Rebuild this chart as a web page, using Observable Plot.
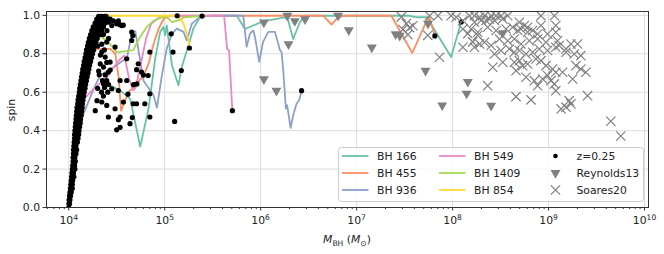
<!DOCTYPE html>
<html><head><meta charset="utf-8">
<script src="https://cdn.jsdelivr.net/npm/d3@7"></script>
<script src="https://cdn.jsdelivr.net/npm/@observablehq/plot@0.6"></script>
<style>
body{margin:0;background:#fff;}
#c{position:relative;width:664px;height:254px;}
#c svg text{font-family:"DejaVu Sans",sans-serif !important;font-size:10.8px !important;}
</style></head><body><div id="c"></div>
<script>
// ---- data (mass in solar masses, spin) ----
const bh166 = [[2.14e4,0.669],[2.71e4,0.634],[3.44e4,0.608],[4.37e4,0.565],[5.56e4,0.317],[6.79e4,0.515],[7.96e4,0.775],[8.97e4,0.914],[9.73e4,0.94],[1.01e5,0.896],[1.05e5,0.948],[1.19e5,0.74],[1.39e5,0.636],[1.51e5,0.732],[1.77e5,0.844],[1.99e5,0.931],[2.34e5,0.992],[3.0e5,0.998],[5.64e5,0.998],[6.87e5,0.929],[1.06e6,0.969],[1.79e6,0.99],[1.94e6,0.972],[2.18e6,0.877],[2.56e6,0.964],[2.89e6,0.998],[3.5e7,0.998],[4.2e7,0.99],[5.52e7,0.99],[6.22e7,0.939],[9.66e7,0.783],[1.23e8,0.966]];
const bh455 = [[1.97e4,0.825],[2.71e4,0.825],[3.06e4,0.8],[3.31e4,0.678],[3.51e4,0.504],[4.21e4,0.6],[4.74e4,0.626],[6.03e4,0.686],[6.79e4,0.747],[7.66e4,0.851],[8.63e4,0.929],[9.73e4,0.981],[1.14e5,0.998],[4.49e6,0.998],[5.48e6,0.952],[6.17e6,0.981],[7.23e6,0.998],[2.30e7,0.998],[3.80e7,0.804],[5.52e7,0.986],[5.75e7,0.988],[6.53e7,0.893]];
const bh936 = [[1.40e4,0.478],[1.82e4,0.617],[2.14e4,0.69],[2.94e4,0.73],[4.05e4,0.78],[4.56e4,0.912],[4.94e4,0.917],[6.02e4,0.66],[7.65e4,0.584],[8.30e4,0.52],[9.35e4,0.688],[1.05e5,0.827],[1.19e5,0.905],[1.34e5,0.931],[1.57e5,0.914],[1.70e5,0.87],[1.92e5,0.957],[2.34e5,0.992],[3.0e5,0.998],[6.59e5,0.998],[7.14e5,0.836],[7.74e5,0.905],[8.38e5,0.922],[8.72e5,0.888],[9.67e5,0.758],[1.06e6,0.862],[1.20e6,0.914],[1.41e6,0.914],[1.59e6,0.818],[1.65e6,0.81],[1.72e6,0.714],[1.83e6,0.515],[1.89e6,0.532],[2.05e6,0.414],[2.18e6,0.48],[2.37e6,0.541],[2.52e6,0.558],[2.67e6,0.608]];
const bh549 = [[1.38e4,0.556],[1.82e4,0.617],[2.51e4,0.678],[2.94e4,0.73],[3.4e4,0.77],[3.8e4,0.79],[4.3e4,0.66],[4.7e4,0.61],[5.0e4,0.625],[5.6e4,0.74],[6.4e4,0.88],[7.2e4,0.955],[8.5e4,0.985],[1.0e5,0.997],[4.16e5,0.998],[4.47e5,0.827],[4.69e5,0.816],[5.07e5,0.504]];
const bh1409 = [[2.14e4,0.894],[2.92e4,0.833],[3.16e4,0.807],[4.7e4,0.819],[5.5e4,0.885],[6.45e4,0.937],[7.6e4,0.971],[9.6e4,0.992],[1.05e5,0.99],[1.2e5,0.965],[1.4e5,0.975],[1.6e5,0.99],[2.6e5,0.997]];
const bh854 = [[2.4e4,0.998],[1.39e5,0.998],[1.57e5,0.956],[1.67e5,0.914],[1.77e5,0.87],[1.81e5,0.83]];

const z025 = [
[1.0e4,0.0],[1.005e4,0.02],[1.02e4,0.02],[1.01e4,0.04],[1.03e4,0.04],[1.02e4,0.06],[1.045e4,0.06],[1.03e4,0.08],[1.06e4,0.08],
[1.04e4,0.10],[1.07e4,0.10],[1.09e4,0.10],[1.05e4,0.12],[1.09e4,0.12],[1.06e4,0.14],[1.10e4,0.14],[1.07e4,0.16],[1.11e4,0.16],[1.13e4,0.16],
[1.08e4,0.18],[1.12e4,0.18],[1.09e4,0.20],[1.14e4,0.20],[1.16e4,0.20],[1.10e4,0.22],[1.15e4,0.22],[1.11e4,0.24],[1.14e4,0.24],[1.17e4,0.24],
[1.11e4,0.26],[1.16e4,0.26],[1.12e4,0.28],[1.15e4,0.28],[1.19e4,0.28],[1.12e4,0.30],[1.17e4,0.30],[1.21e4,0.30],[1.13e4,0.32],[1.19e4,0.32],
[1.14e4,0.34],[1.18e4,0.34],[1.23e4,0.34],[1.15e4,0.36],[1.20e4,0.36],[1.25e4,0.36],[1.15e4,0.38],[1.21e4,0.38],[1.27e4,0.38],
[1.16e4,0.40],[1.22e4,0.40],[1.28e4,0.40],[1.17e4,0.42],[1.24e4,0.42],[1.30e4,0.42],[1.18e4,0.44],[1.25e4,0.44],[1.32e4,0.44],
[1.19e4,0.46],[1.26e4,0.46],[1.33e4,0.46],[1.20e4,0.48],[1.28e4,0.48],[1.35e4,0.48],[1.21e4,0.50],[1.29e4,0.50],[1.36e4,0.50],
[1.22e4,0.52],[1.30e4,0.52],[1.38e4,0.52],[1.24e4,0.54],[1.32e4,0.54],[1.39e4,0.54],[1.25e4,0.56],[1.33e4,0.56],[1.41e4,0.56],
[1.27e4,0.58],[1.35e4,0.58],[1.43e4,0.58],[1.29e4,0.60],[1.37e4,0.60],[1.45e4,0.60],[1.30e4,0.62],[1.39e4,0.62],[1.48e4,0.62],
[1.32e4,0.64],[1.41e4,0.64],[1.50e4,0.64],[1.34e4,0.66],[1.43e4,0.66],[1.53e4,0.66],[1.36e4,0.68],[1.46e4,0.68],[1.56e4,0.68],
[1.38e4,0.70],[1.48e4,0.70],[1.59e4,0.70],[1.40e4,0.72],[1.51e4,0.72],[1.62e4,0.72],[1.43e4,0.74],[1.54e4,0.74],[1.65e4,0.74],
[1.45e4,0.76],[1.57e4,0.76],[1.69e4,0.76],[1.48e4,0.78],[1.60e4,0.78],[1.73e4,0.78],[1.51e4,0.80],[1.64e4,0.80],[1.77e4,0.80],
[1.53e4,0.82],[1.67e4,0.82],[1.82e4,0.82],[1.57e4,0.84],[1.71e4,0.84],[1.87e4,0.84],[1.60e4,0.86],[1.76e4,0.86],[1.92e4,0.86],
[1.64e4,0.88],[1.81e4,0.88],[1.98e4,0.88],[1.69e4,0.90],[1.86e4,0.90],[2.04e4,0.90],[2.14e4,0.90],[1.74e4,0.92],[1.92e4,0.92],[2.10e4,0.92],[2.2e4,0.92],
[1.80e4,0.94],[1.98e4,0.94],[2.16e4,0.94],[2.3e4,0.94],[1.88e4,0.96],[2.05e4,0.96],[2.25e4,0.96],[2.4e4,0.96],
[1.96e4,0.98],[2.12e4,0.98],[2.3e4,0.98],[2.5e4,0.98],[2.05e4,0.995],[2.2e4,0.995],[2.35e4,0.995],[2.45e4,0.995],
[2.30e4,0.982],[2.59e4,0.965],[2.81e4,0.947],[3.16e4,0.956],[3.56e4,0.947],[2.7e4,0.98],[2.92e4,0.971],[3.29e4,0.971],[3.7e4,0.949],[3.43e4,0.951],
[4.53e4,0.913],[4.53e4,0.869],[4.67e4,0.895],[2.49e4,0.861],[3.04e4,0.835],[2.21e4,0.809],[2.40e4,0.783],[2.70e4,0.757],[2.30e4,0.731],[2.59e4,0.705],
[2.49e4,0.661],[2.30e4,0.644],[2.81e4,0.618],[3.43e4,0.661],[4.02e4,0.661],[3.29e4,0.609],[4.02e4,0.774],[5.30e4,0.748],[5.74e4,0.705],[7.0e4,0.809],
[6.72e4,0.687],[7.0e4,0.592],[6.21e4,0.540],[5.09e4,0.540],[4.70e4,0.540],[3.71e4,0.549],[2.49e4,0.531],[2.21e4,0.549],[3.04e4,0.514],[3.43e4,0.471],
[2.59e4,0.471],[4.35e4,0.436],[3.16e4,0.404],[3.43e4,0.417],[3.29e4,0.457],[7.0e4,0.471],[1.27e5,0.448],[1.17e5,0.904],[1.22e5,0.809],[1.49e5,0.713],
[1.81e5,0.83],[1.35e5,0.998],[2.45e5,0.996],[5.07e5,0.504],[2.67e6,0.608],[6.53e7,0.893],[1.23e8,0.966],
[2.13e4,0.747],[2.25e4,0.66],[4.6e4,0.468],[1.97e4,0.556],[1.89e4,0.504],[2.7e4,0.715],[2.49e4,0.755],[2.36e4,0.625],[2.08e4,0.691],[2.14e4,0.793],
[2.21e4,0.85],[6.0e4,0.689],[5.1e4,0.717],[5.13e4,0.643],[4.74e4,0.639],[4.14e4,0.59],[2.0e4,0.84],[2.05e4,0.71],[2.0e4,0.62],[2.2e4,0.60],
[2.3e4,0.58],[2.55e4,0.60],[2.6e4,0.64],[2.4e4,0.69],[2.35e4,0.82],[2.6e4,0.88],[2.5e4,0.92],[2.3e4,0.9]];

const reynolds13 = [[1.08e6,0.963],[1.9e6,0.998],[2.27e6,0.97],[2.9e6,0.98],[1.95e6,0.85],[1.08e6,0.668],[1.46e6,0.608],[6.41e6,0.998],[8.28e6,0.923],[1.44e7,0.833],[2.55e7,0.902],[2.81e7,0.894],[5.22e7,0.712],[5.55e7,0.957],[7.80e7,0.532],[1.44e8,0.654],[1.40e8,0.593],[2.52e8,0.53],[3.33e8,0.908]];

const soares20 = [[7.03e7,0.998],[9.66e7,0.998],[1.09e8,0.99],[1.50e8,0.998],[1.69e8,0.998],[1.91e8,0.99],[2.15e8,0.998],[2.52e8,0.998],[2.84e8,0.998],[3.20e8,0.998],[3.75e8,0.998],[8.33e8,0.998],[1.15e9,0.998],
[1.28e8,0.973],[1.69e8,0.964],[1.98e8,0.973],[2.23e8,0.973],[2.42e8,0.981],[2.73e8,0.973],[3.33e8,0.981],[4.96e8,0.964],[5.59e8,0.947],[6.05e8,0.938],[8.33e8,0.947],[1.19e9,0.947],
[1.28e8,0.929],[1.56e8,0.929],[1.83e8,0.912],[2.32e8,0.938],[2.84e8,0.921],[3.61e8,0.929],[4.23e8,0.938],[4.77e8,0.921],[5.16e8,0.929],[6.05e8,0.912],[6.82e8,0.921],[7.69e8,0.903],[9.77e8,0.903],[1.19e9,0.912],
[1.28e8,0.834],[1.69e8,0.834],[1.91e8,0.851],[2.15e8,0.86],[2.52e8,0.843],[3.08e8,0.877],[3.75e8,0.868],[4.40e8,0.877],[5.16e8,0.851],[6.30e8,0.868],[7.69e8,0.877],[9.39e8,0.86],[1.24e9,0.868],[1.29e9,0.843],[1.52e9,0.825],[1.71e9,0.851],[2.00e9,0.851],
[7.31e7,0.782],[2.73e8,0.799],[3.20e8,0.817],[3.91e8,0.825],[4.40e8,0.808],[4.96e8,0.817],[5.82e8,0.799],[6.82e8,0.808],[8.00e8,0.825],[9.77e8,0.817],[1.19e9,0.834],[1.52e9,0.808],[1.85e9,0.799],[2.17e9,0.79],
[2.62e8,0.73],[3.33e8,0.756],[4.40e8,0.756],[4.96e8,0.764],[5.37e8,0.738],[6.05e8,0.747],[7.39e8,0.773],[8.33e8,0.764],[9.39e8,0.738],[1.10e9,0.721],[1.19e9,0.704],[1.40e9,0.704],[1.93e9,0.738],[2.17e9,0.721],[2.45e9,0.704],
[4.58e8,0.712],[5.82e8,0.678],[7.10e8,0.66],[7.69e8,0.634],[8.67e8,0.669],[9.77e8,0.687],[1.06e9,0.66],[1.15e9,0.643],[1.78e9,0.669],[2.32e8,0.634],
[4.58e8,0.577],[6.56e8,0.56],[1.19e9,0.608],[1.64e9,0.556],[2.55e9,0.582],[1.35e9,0.513],[1.52e9,0.522],[1.71e9,0.539],[4.45e9,0.449],[5.66e9,0.372],
[2.93e7,0.992],[3.30e7,0.957],[3.57e7,0.936],[3.04e7,0.926],[3.42e7,0.9],[3.85e7,0.946],[5.52e7,0.896],[5.75e7,0.998],[1.62e8,0.862],[1.83e8,0.896],[1.44e8,0.905]];

const xMajor = [1e4,1e5,1e6,1e7,1e8,1e9,1e10];
const xMinor = d3.range(3,10).flatMap(e => d3.range(2,10).map(m => m*10**e)).filter(v => v > 5866 && v < 1.1e10);
const yTicks = [0,0.2,0.4,0.6,0.8,1.0];

const tracks = [
  {name:"BH 166", data:bh166, color:"#66c2a5"},
  {name:"BH 455", data:bh455, color:"#fc8d62"},
  {name:"BH 936", data:bh936, color:"#8da0cb"},
  {name:"BH 549", data:bh549, color:"#e78ac3"},
  {name:"BH 1409", data:bh1409, color:"#a6d854"},
  {name:"BH 854", data:bh854, color:"#ffd92f"}
];
const grey = "#808080";

const chart = Plot.plot({
  width: 664, height: 254,
  marginLeft: 46, marginRight: 16, marginTop: 11, marginBottom: 47,
  style: {fontFamily: "DejaVu Sans, sans-serif", fontSize: "10.8px", color: "#222", background: "white", overflow: "visible"},
  x: {type: "log", domain: [5866, 1.10e10]},
  y: {domain: [0, 1.02]},
  marks: [
    Plot.gridX({ticks: xMajor, stroke: "#dcdcdc", strokeOpacity: 1, strokeWidth: 1}),
    Plot.gridY({ticks: yTicks, stroke: "#dcdcdc", strokeOpacity: 1, strokeWidth: 1}),
    Plot.axisX({ticks: xMinor, tickSize: 2, tickFormat: () => "", label: null, stroke: "#333"}),
    Plot.axisX({ticks: xMajor, tickSize: 3.5, tickPadding: 5, tickFormat: d => String(Math.round(Math.log10(d))), label: null, stroke: "#333", fill: "#222"}),
    Plot.axisY({ticks: yTicks, tickSize: 3.5, tickPadding: 3, tickFormat: d3.format(".1f"), label: null, stroke: "#333", fill: "#222"}),
    ...tracks.map(t => Plot.line(t.data, {x: d => d[0], y: d => d[1], stroke: t.color, strokeWidth: 1.8, clip: true})),
    Plot.dot(z025, {x: d => d[0], y: d => d[1], r: 2.6, fill: "black", clip: true}),
    Plot.dot(reynolds13, {x: d => d[0], y: d => d[1], symbol: "triangle", rotate: 180, r: 3.7, fill: grey, clip: true}),
    Plot.dot(soares20, {x: d => d[0], y: d => d[1], symbol: "times", r: 4.3, stroke: grey, strokeWidth: 1.2, clip: true}),
    Plot.frame({stroke: "#333", strokeWidth: 1})
  ]
});
document.getElementById("c").appendChild(chart);

const svg = d3.select(chart);
// superscript exponents on x tick labels
svg.selectAll('g[aria-label="x-axis tick label"] text').each(function() {
  const e = this.textContent;
  if (!/^\d+$/.test(e)) return;
  const t = d3.select(this);
  t.text(null);
  t.append("tspan").text("10");
  t.append("tspan").attr("dy", "-0.5em").style("font-size", "7.6px").text(e);
});

// axis labels
const xl = svg.append("text").attr("x", 347).attr("y", 243).attr("text-anchor", "middle").attr("fill", "#222");
xl.append("tspan").style("font-style", "italic").text("M");
xl.append("tspan").style("font-size", "7.6px").attr("dy", 2.5).text("BH");
xl.append("tspan").attr("dy", -2.5).text(" (");
xl.append("tspan").style("font-style", "italic").text("M");
xl.append("tspan").style("font-size", "7.6px").attr("dy", 2.5).text("\u2299");
xl.append("tspan").attr("dy", -2.5).text(")");

svg.append("text").attr("transform", "translate(15,110) rotate(-90)").attr("text-anchor", "middle")
  .attr("fill", "#222").text("spin");

// legend
const lg = svg.append("g").attr("text-anchor", "start");
lg.append("rect").attr("x", 338.5).attr("y", 147.5).attr("width", 305).attr("height", 54).attr("rx", 3)
  .attr("fill", "white").attr("fill-opacity", 0.8).attr("stroke", "#cccccc");
const rows = [156, 173, 190];
tracks.forEach((t, i) => {
  const col = Math.floor(i / 3), row = i % 3;
  const x0 = col === 0 ? 342 : 439;
  lg.append("line").attr("x1", x0).attr("x2", x0 + 26.5).attr("y1", rows[row]).attr("y2", rows[row])
    .attr("stroke", t.color).attr("stroke-width", 1.8);
  lg.append("text").attr("x", x0 + 35).attr("y", rows[row] + 4).attr("text-anchor", "start").attr("fill", "#222").text(t.name);
});
lg.append("circle").attr("cx", 555.5).attr("cy", rows[0]).attr("r", 2.3).attr("fill", "black");
lg.append("path").attr("d", d3.symbol(d3.symbolTriangle, Math.PI * 3.7 * 3.7)()).attr("transform", `translate(555.5,${rows[1]}) rotate(180)`).attr("fill", grey);
lg.append("path").attr("d", d3.symbol(d3.symbolTimes, Math.PI * 4.3 * 4.3)()).attr("transform", `translate(555.5,${rows[2]})`).attr("fill", "none").attr("stroke", grey).attr("stroke-width", 1.2);
["z=0.25", "Reynolds13", "Soares20"].forEach((s, i) => {
  lg.append("text").attr("x", 576.5).attr("y", rows[i] + 4).attr("text-anchor", "start").attr("fill", "#222").text(s);
});
</script></body></html>
